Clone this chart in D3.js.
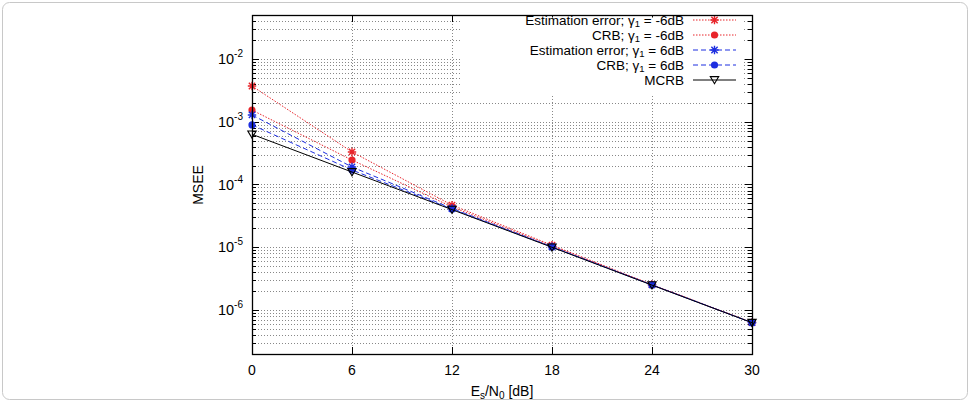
<!DOCTYPE html>
<html><head><meta charset="utf-8">
<script src="https://cdn.jsdelivr.net/npm/d3@7"></script>
<style>
html,body{margin:0;padding:0;background:#fff;}
svg{display:block;font-family:"Liberation Sans",Arial,Helvetica,sans-serif;}
</style></head>
<body>
<svg id="chart" width="970" height="402"></svg>
<script>
// ---- data ----
const snrDb = [0, 6, 12, 18, 24, 30];
const xTickLabels = ["0", "6", "12", "18", "24", "30"];
const yTickExponents = [-6, -5, -4, -3, -2];
const estErrM6 = [3.7e-3, 3.3e-4, 4.7e-5, 1.08e-5, 2.55e-6, 6.35e-7];
const crbM6 = [1.53e-3, 2.45e-4, 4.4e-5, 1.04e-5, 2.53e-6, 6.33e-7];
const estErrP6 = [1.28e-3, 1.9e-4, 4.15e-5, 1.02e-5, 2.52e-6, 6.32e-7];
const crbP6 = [8.9e-4, 1.7e-4, 4.05e-5, 1.01e-5, 2.51e-6, 6.31e-7];
const mcrb = [6.3e-4, 1.58e-4, 3.98e-5, 1.0e-5, 2.5e-6, 6.3e-7];
const seriesNames = ["Estimation error; γ1 = -6dB", "CRB; γ1 = -6dB", "Estimation error; γ1 = 6dB", "CRB; γ1 = 6dB", "MCRB"];

const series = [
  {name: seriesNames[0], values: estErrM6, color: "#e8242a", dash: "1.5,1.5", marker: "star"},
  {name: seriesNames[1], values: crbM6, color: "#e8242a", dash: "1.5,1.5", marker: "dot"},
  {name: seriesNames[2], values: estErrP6, color: "#1d2ee0", dash: "5,3", marker: "star"},
  {name: seriesNames[3], values: crbP6, color: "#1d2ee0", dash: "5,3", marker: "dot"},
  {name: seriesNames[4], values: mcrb, color: "#000000", dash: null, marker: "tri"}
];

const svg = d3.select("#chart");
const L = 252, R = 752, T = 15, B = 354;
const x = d3.scaleLinear().domain([0, 30]).range([L, R]);
const y = d3.scaleLog().domain([2e-7, 5e-2]).range([B, T]);

// outer frame
svg.append("rect").attr("x", 2.5).attr("y", 2.5).attr("width", 965).attr("height", 397)
  .attr("rx", 7).attr("fill", "none").attr("stroke", "#c8c8c8").attr("stroke-width", 1);

// grid values
const gridY = [];
for (let k = -7; k <= -2; k++) for (let m = 1; m <= 9; m++) {
  const v = m * Math.pow(10, k);
  if (v > 2.0001e-7 && v < 4.999e-2) gridY.push(v);
}
const g = svg.append("g");
g.selectAll("line.gy").data(gridY).join("line")
  .attr("x1", L).attr("x2", R)
  .attr("y1", d => Math.round(y(d)) + 0.5).attr("y2", d => Math.round(y(d)) + 0.5)
  .attr("stroke", "#6a6a6a").attr("stroke-width", 0.8).attr("stroke-dasharray", "1,2");
g.selectAll("line.gx").data(snrDb.slice(1, -1)).join("line")
  .attr("y1", T).attr("y2", B)
  .attr("x1", d => Math.round(x(d)) + 0.5).attr("x2", d => Math.round(x(d)) + 0.5)
  .attr("stroke", "#6a6a6a").attr("stroke-width", 0.8).attr("stroke-dasharray", "1,2");

// ticks (inward, mirrored)
const tk = svg.append("g").attr("stroke", "#000").attr("stroke-width", 1);
gridY.forEach(v => {
  const major = Math.abs(Math.log10(v) - Math.round(Math.log10(v))) < 1e-9;
  const len = major ? 7 : 4;
  const yy = Math.round(y(v)) + 0.5;
  tk.append("line").attr("x1", L).attr("x2", L + len).attr("y1", yy).attr("y2", yy);
  tk.append("line").attr("x1", R - len).attr("x2", R).attr("y1", yy).attr("y2", yy);
});
snrDb.forEach(d => {
  const xx = Math.round(x(d)) + 0.5;
  tk.append("line").attr("x1", xx).attr("x2", xx).attr("y1", B).attr("y2", B - 7);
  tk.append("line").attr("x1", xx).attr("x2", xx).attr("y1", T).attr("y2", T + 7);
});

// series
const line = d3.line().x((d, i) => x(snrDb[i])).y(d => y(d));
function marker(sel, type, color, cx, cy) {
  if (type === "dot") {
    sel.append("circle").attr("cx", cx).attr("cy", cy).attr("r", 3.6).attr("fill", color);
  } else if (type === "star") {
    const s = 4.2;
    sel.append("path").attr("d",
      `M${cx - s},${cy}L${cx + s},${cy}M${cx},${cy - s}L${cx},${cy + s}` +
      `M${cx - s * 0.75},${cy - s * 0.75}L${cx + s * 0.75},${cy + s * 0.75}` +
      `M${cx - s * 0.75},${cy + s * 0.75}L${cx + s * 0.75},${cy - s * 0.75}`)
      .attr("stroke", color).attr("stroke-width", 1.4).attr("fill", "none");
  } else if (type === "tri") {
    const s = 4.2;
    sel.append("path").attr("d", `M${cx - s},${cy - s * 0.8}L${cx + s},${cy - s * 0.8}L${cx},${cy + s * 0.9}Z`)
      .attr("stroke", color).attr("stroke-width", 1.1).attr("fill", "none");
  }
}
const sg = svg.append("g");
series.forEach(s => {
  sg.append("path").datum(s.values).attr("d", line)
    .attr("fill", "none").attr("stroke", s.color).attr("stroke-width", 1)
    .attr("stroke-dasharray", s.dash);
  s.values.forEach((v, i) => marker(sg, s.marker, s.color, x(snrDb[i]), y(v)));
});

// legend (opaque box)
const lg = svg.append("g");
lg.append("rect").attr("x", 461).attr("y", 17.5).attr("width", 283).attr("height", 76.5).attr("fill", "#fff");
series.forEach((s, i) => {
  const yy = 20 + i * 15;
  const t = lg.append("text").attr("x", 684).attr("y", yy + 4.5).attr("text-anchor", "end")
    .attr("font-size", 13.5).attr("fill", "#000");
  if (s.name.includes("γ1")) {
    const parts = s.name.split("γ1");
    t.append("tspan").text(parts[0] + "γ");
    t.append("tspan").attr("font-size", 9.5).attr("dy", 2.5).text("1");
    t.append("tspan").attr("dy", -2.5).text(parts[1]);
  } else {
    t.text(s.name);
  }
  lg.append("line").attr("x1", 693).attr("x2", 736).attr("y1", yy).attr("y2", yy)
    .attr("stroke", s.color).attr("stroke-width", 1).attr("stroke-dasharray", s.dash);
  marker(lg, s.marker, s.color, 714.5, yy);
});

// border
svg.append("rect").attr("x", L + 0.5).attr("y", T + 0.5).attr("width", R - L).attr("height", B - T)
  .attr("fill", "none").attr("stroke", "#000").attr("stroke-width", 1.3);

// x tick labels
svg.append("g").selectAll("text").data(snrDb).join("text")
  .attr("x", d => x(d)).attr("y", 375).attr("text-anchor", "middle").attr("font-size", 14)
  .text((d, i) => xTickLabels[i]);

// y tick labels
yTickExponents.forEach(e => {
  const t = svg.append("text").attr("x", 243).attr("y", y(Math.pow(10, e)) + 5)
    .attr("text-anchor", "end").attr("font-size", 14.5);
  t.append("tspan").text("10");
  t.append("tspan").attr("font-size", 10).attr("dy", -7).text(String(e));
});

// axis titles
const xt = svg.append("text").attr("x", 502).attr("y", 396).attr("text-anchor", "middle").attr("font-size", 14);
xt.append("tspan").text("E");
xt.append("tspan").attr("font-size", 10).attr("dy", 3).text("s");
xt.append("tspan").attr("dy", -3).text("/N");
xt.append("tspan").attr("font-size", 10).attr("dy", 3).text("0");
xt.append("tspan").attr("dy", -3).text(" [dB]");

svg.append("text").attr("transform", "translate(203,185) rotate(-90)")
  .attr("text-anchor", "middle").attr("font-size", 14).text("MSEE");
</script>
</body></html>
